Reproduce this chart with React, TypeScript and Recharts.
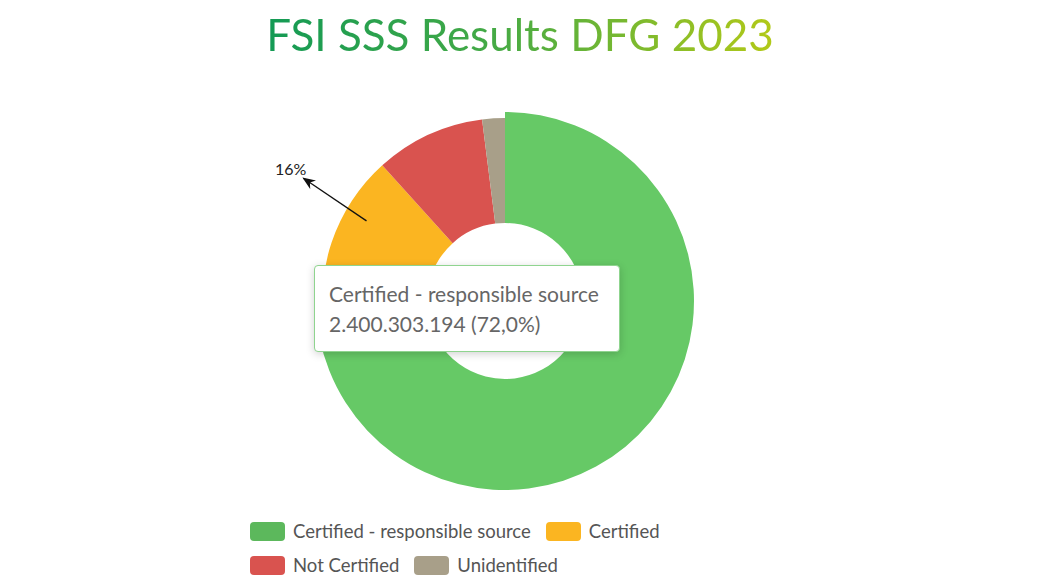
import { PieChart, Pie, Cell, Sector, Tooltip } from "recharts";

const categories = ["Certified - responsible source", "Certified", "Not Certified", "Unidentified"];
const volumes = [2400303194, 543400000, 323380000, 66670000];
const sliceColors = ["#66c966", "#fbb521", "#d9534f", "#a89f89"];
const legendColors = ["#5cb85c", "#fbb521", "#d9534f", "#a89f89"];
const labelledSlice = 1;

const total = volumes.reduce((a, b) => a + b, 0);
const data = categories.map((name, i) => ({ name, value: volumes[i] }));

const fmtNum = (n: number) => String(n).replace(/\B(?=(\d{3})+(?!\d))/g, ".");
const fmtPct = (n: number) => ((n / total) * 100).toFixed(1).replace(".", ",");

const RAD = Math.PI / 180;
const polar = (cx: number, cy: number, r: number, deg: number) => ({
  x: cx + r * Math.cos(-deg * RAD),
  y: cy + r * Math.sin(-deg * RAD),
});

const renderLabel = (props: any) => {
  if (props.index !== labelledSlice) return null;
  const { cx, cy, midAngle, outerRadius, percent } = props;
  const from = polar(cx, cy, outerRadius - 23, midAngle - 11.5);
  const to = polar(cx, cy, outerRadius + 53, midAngle - 12.8);
  return (
    <g>
      <defs>
        <marker id="arrowHead" markerWidth="10" markerHeight="8" refX="9" refY="4" orient="auto">
          <path d="M0,0 L10,4 L0,8 L3,4 Z" fill="#111" />
        </marker>
      </defs>
      <line x1={from.x} y1={from.y} x2={to.x} y2={to.y} stroke="#111" strokeWidth={1.3} markerEnd="url(#arrowHead)" />
      <text x={to.x + 3} y={to.y - 3} textAnchor="end" fontFamily="Lato" fontSize={16} fill="#222">
        {Math.round(percent * 100)}%
      </text>
    </g>
  );
};

const renderActive = (props: any) => (
  <Sector
    cx={props.cx}
    cy={props.cy}
    innerRadius={props.innerRadius}
    outerRadius={props.outerRadius + 6}
    startAngle={props.startAngle}
    endAngle={props.endAngle}
    fill={props.fill}
  />
);

const TipBox = ({ active, payload }: any) => {
  if (!active || !payload || !payload.length) return null;
  const p = payload[0];
  return (
    <div
      style={{
        background: "#fff",
        border: "1px solid #8fd48f",
        borderRadius: 4,
        boxShadow: "0 2px 8px rgba(0,0,0,0.18)",
        padding: "13px 14px 12px 14px",
        width: 276,
        fontFamily: "Lato",
        fontSize: 21,
        lineHeight: "30px",
        color: "#666",
        whiteSpace: "nowrap",
      }}
    >
      <div>{p.name}</div>
      <div>
        {fmtNum(p.value)} ({fmtPct(p.value)}%)
      </div>
    </div>
  );
};

export default function App() {
  return (
    <div style={{ position: "absolute", left: 0, top: 0, width: 1040, height: 586, background: "#fff" }}>
      <div
        style={{
          position: "absolute",
          top: 4,
          width: 1040,
          textAlign: "center",
          fontFamily: "Lato",
          fontSize: 44,
          lineHeight: "60px",
        }}
      >
        <span
          style={{
            background: "linear-gradient(90deg, #139a55 0%, #45aa45 45%, #b2c918 100%)",
            WebkitBackgroundClip: "text",
            backgroundClip: "text",
            color: "transparent",
          }}
        >
          FSI SSS Results DFG 2023
        </span>
      </div>

      <PieChart width={1040} height={586} margin={{ top: 0, right: 0, bottom: 0, left: 0 }}>
        <Pie
          data={data}
          dataKey="value"
          nameKey="name"
          cx={505}
          cy={301}
          innerRadius={78}
          outerRadius={183}
          startAngle={90}
          endAngle={-270}
          stroke="none"
          label={renderLabel}
          labelLine={false}
          activeShape={renderActive}
          isAnimationActive={false}
        >
          {data.map((_, i) => (
            <Cell key={i} fill={sliceColors[i]} />
          ))}
        </Pie>
        <Tooltip
          defaultIndex={0}
          position={{ x: 314, y: 265 }}
          content={<TipBox />}
          isAnimationActive={false}
        />
      </PieChart>

      <div
        style={{
          position: "absolute",
          left: 250,
          top: 519,
          width: 430,
          display: "flex",
          flexWrap: "wrap",
          rowGap: 10,
          fontFamily: "Lato",
          fontSize: 18.5,
          color: "#555",
        }}
      >
        {categories.map((c, i) => (
          <div key={c} style={{ display: "flex", alignItems: "center", marginRight: 15, height: 24 }}>
            <span
              style={{
                display: "inline-block",
                width: 35,
                height: 19,
                borderRadius: 4,
                background: legendColors[i],
                marginRight: 8,
              }}
            />
            <span>{c}</span>
          </div>
        ))}
      </div>
    </div>
  );
}
